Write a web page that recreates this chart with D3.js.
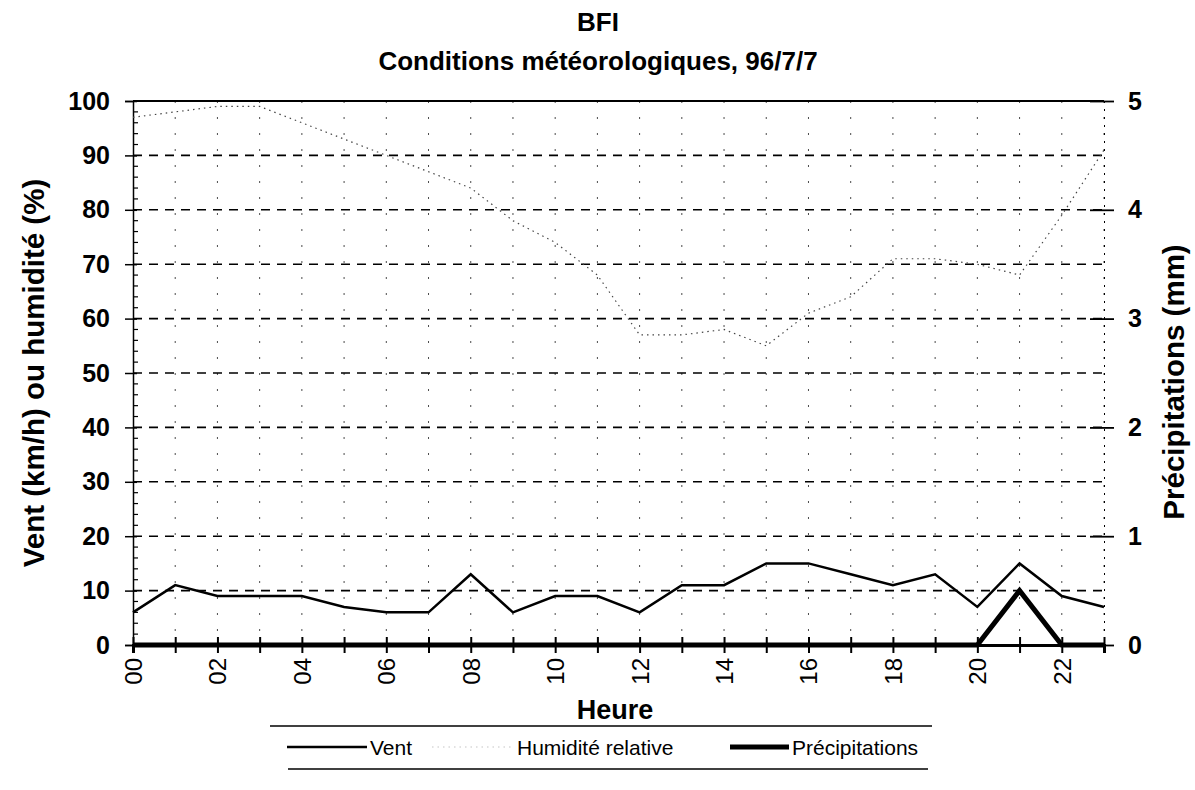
<!DOCTYPE html>
<html><head><meta charset="utf-8">
<script src="https://cdn.jsdelivr.net/npm/d3@7"></script>
<style>body{margin:0;background:#fff}svg{display:block;font-family:"Liberation Sans",Arial,sans-serif}</style>
</head><body><svg id="c" width="1195" height="790"></svg>
<script>
const hours = d3.range(0,24);
const hourLabels = ["00","02","04","06","08","10","12","14","16","18","20","22"];
const vent = [6,11,9,9,9,7,6,6,13,6,9,9,6,11,11,15,15,13,11,13,7,15,9,7];
const humidite = [97,98,99,99,96,93,90,87,84,78,74,68,57,57,58,55,61,64,71,71,70,68,79,91];
const precip = [0,0,0,0,0,0,0,0,0,0,0,0,0,0,0,0,0,0,0,0,0,0.5,0,0];
const leftTicks = [0,10,20,30,40,50,60,70,80,90,100];
const rightTicks = [0,1,2,3,4,5];

const svg = d3.select("#c");
const L=133,R=1104,T=101,B=645;
const x = d3.scaleLinear().domain([0,23]).range([L,R]);
const y = d3.scaleLinear().domain([0,100]).range([B,T]);
const y2 = d3.scaleLinear().domain([0,5]).range([B,T]);

// horizontal dashed gridlines
svg.append("g").selectAll("line").data(leftTicks.filter(v=>v>0&&v<100)).join("line")
  .attr("x1",L).attr("x2",R).attr("y1",d=>y(d)).attr("y2",d=>y(d))
  .attr("stroke","#000").attr("stroke-width",1.6).attr("stroke-dasharray","9,7");
// vertical dotted gridlines
svg.append("g").selectAll("line").data(hours.slice(1)).join("line")
  .attr("x1",d=>x(d)).attr("x2",d=>x(d)).attr("y1",T).attr("y2",B)
  .attr("stroke","#000").attr("stroke-width",1).attr("stroke-dasharray","2,14").attr("opacity",0.7);
// top border
svg.append("line").attr("x1",L).attr("x2",R).attr("y1",T).attr("y2",T).attr("stroke","#000").attr("stroke-width",2);

// left axis
const gl = svg.append("g").attr("transform",`translate(${L},0)`)
  .call(d3.axisLeft(y).tickValues(leftTicks).tickSize(8).tickPadding(15).tickFormat(d3.format("d")));
gl.selectAll(".tick line").attr("x1",4).attr("stroke-width",1.5);
gl.select(".domain").attr("stroke-width",1.5);
gl.selectAll("text").attr("font-size",25).attr("font-weight","bold").attr("font-family","Liberation Sans, Arial");
svg.append("g").selectAll("line").data(d3.range(0,101,2).filter(v=>v%10)).join("line")
  .attr("x1",L).attr("x2",L+5).attr("y1",d=>y(d)).attr("y2",d=>y(d)).attr("stroke","#000").attr("stroke-width",1.2);

// right axis
const gr = svg.append("g").attr("transform",`translate(${R},0)`)
  .call(d3.axisRight(y2).tickValues(rightTicks).tickSize(10).tickPadding(14).tickFormat(d3.format("d")));
gr.selectAll(".tick line").attr("x1",-14).attr("stroke-width",1.8);
gr.select(".domain").attr("stroke-width",1).attr("stroke-dasharray","2,6");
gr.selectAll("text").attr("font-size",25).attr("font-weight","bold").attr("font-family","Liberation Sans, Arial");

// x axis
const gx = svg.append("g").attr("transform",`translate(0,${B})`)
  .call(d3.axisBottom(x).tickValues(hours).tickSize(8).tickFormat(""));
gx.selectAll(".tick line").attr("y1",-8).attr("stroke-width",2);
gx.select(".domain").attr("stroke-width",3);
svg.append("g").selectAll("text").data(hourLabels).join("text")
  .attr("transform",d=>`translate(${x(+d)+9},${B+13}) rotate(-90)`)
  .attr("text-anchor","end").attr("font-size",24).text(d=>d);

// series
const lineV = d3.line().x((d,i)=>x(i)).y(d=>y(d));
svg.append("path").datum(humidite).attr("d",lineV).attr("fill","none")
  .attr("stroke","#444").attr("stroke-width",1.2).attr("stroke-dasharray","1.5,4");
svg.append("path").datum(vent).attr("d",lineV).attr("fill","none")
  .attr("stroke","#000").attr("stroke-width",2.5).attr("stroke-linejoin","miter");
const lineP = d3.line().x((d,i)=>x(i)).y(d=>y2(d));
svg.append("path").datum(precip).attr("d",lineP).attr("fill","none")
  .attr("stroke","#000").attr("stroke-width",5);

// titles
svg.append("text").attr("x",598).attr("y",31).attr("text-anchor","middle").attr("font-size",26).attr("font-weight","bold").text("BFI");
svg.append("text").attr("x",598).attr("y",70).attr("text-anchor","middle").attr("font-size",26).attr("font-weight","bold").text("Conditions météorologiques, 96/7/7");
svg.append("text").attr("transform","translate(44,373) rotate(-90)").attr("text-anchor","middle").attr("font-size",29.5).attr("font-weight","bold").text("Vent (km/h) ou humidité (%)");
svg.append("text").attr("transform","translate(1184,382) rotate(-90)").attr("text-anchor","middle").attr("font-size",29.5).attr("font-weight","bold").text("Précipitations (mm)");
svg.append("text").attr("x",615).attr("y",719).attr("text-anchor","middle").attr("font-size",27).attr("font-weight","bold").text("Heure");

// legend
const leg = svg.append("g");
leg.append("line").attr("x1",270).attr("x2",932).attr("y1",726).attr("y2",726).attr("stroke","#000").attr("stroke-width",1.5);
leg.append("line").attr("x1",288).attr("x2",928).attr("y1",769).attr("y2",769).attr("stroke","#000").attr("stroke-width",1.5);
const items = [
  {name:"Vent", x:287, w:2.5, dash:null, col:"#000", tx:370},
  {name:"Humidité relative", x:432, w:1.2, dash:"1.5,4", col:"#444", tx:517},
  {name:"Précipitations", x:730, w:5, dash:null, col:"#000", tx:792}
];
items.forEach(it=>{
  const l = leg.append("line").attr("x1",it.x).attr("x2",it.tx-3).attr("y1",747).attr("y2",747)
    .attr("stroke",it.col).attr("stroke-width",it.w);
  if(it.dash) l.attr("stroke-dasharray",it.dash).attr("opacity",0.3);
  leg.append("text").attr("x",it.tx).attr("y",755).attr("font-size",21).text(it.name);
});
</script></body></html>
